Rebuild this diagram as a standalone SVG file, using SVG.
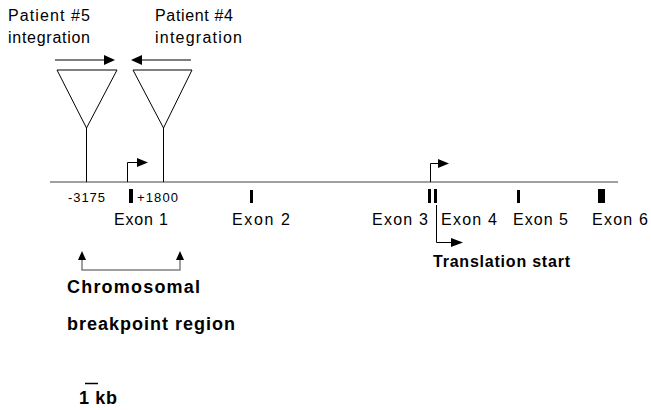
<svg xmlns="http://www.w3.org/2000/svg" width="651" height="410" viewBox="0 0 651 410">
<style>
text{font-family:"Liberation Sans",Arial,sans-serif;fill:#000}
.lbl{font-size:16px}
.ex{font-size:16px}
.tr{font-size:16px;font-weight:bold}
.sm{font-size:13px}
.big{font-size:18px;font-weight:bold}
.blk{stroke:#000;stroke-width:1;fill:none}
.gry{stroke:#808080;stroke-width:1.5;fill:none}
.tri{stroke:#000;stroke-width:1;fill:#fff}
.head{fill:#000}
</style>
<rect width="651" height="410" fill="#fff"/>
<g id="labels-top">
<text class="lbl" x="8" y="21" textLength="82">Patient #5</text>
<text class="lbl" x="8" y="43" textLength="82">integration</text>
<text class="lbl" x="155" y="21" textLength="78">Patient #4</text>
<text class="lbl" x="155" y="43" textLength="87">integration</text>
</g>
<g id="connectors">
<line class="gry" x1="50" y1="182" x2="618" y2="182"/>
<line class="blk" x1="55" y1="60" x2="105" y2="60"/>
<polygon class="head" points="115,60 104,55 104,65"/>
<line class="blk" x1="191" y1="60" x2="141" y2="60"/>
<polygon class="head" points="131,60 142,55 142,65"/>
<line class="blk" x1="86.5" y1="128" x2="86.5" y2="182"/>
<line class="blk" x1="163.5" y1="128" x2="163.5" y2="182"/>
<polyline class="blk" points="127.5,182 127.5,162.5 138,162.5"/>
<polygon class="head" points="148,162.5 137,158 137,167"/>
<polyline class="blk" points="430.5,182 430.5,163.5 440,163.5"/>
<polygon class="head" points="449,163.5 438,159 438,168"/>
<polyline class="blk" points="436.5,205 436.5,242.5 452,242.5"/>
<polygon class="head" points="463,242.5 451,238 451,247"/>
<polyline class="gry" points="82,260 82,270 180,270 180,260"/>
<polygon class="head" points="82,251 78,260 86,260"/>
<polygon class="head" points="180,251 176,260 184,260"/>
<line x1="85" y1="383.5" x2="98" y2="383.5" stroke="#000" stroke-width="1.5"/>
</g>
<g id="patient5-insert"><polygon class="tri" points="57,70 117,70 86.5,128"/></g>
<g id="patient4-insert"><polygon class="tri" points="133,70 192,70 163.5,128"/></g>
<g id="exon1"><rect x="129" y="189" width="4" height="14" fill="#000"/><text class="ex" x="114" y="225" textLength="54">Exon 1</text></g>
<g id="exon2"><rect x="250" y="190" width="3" height="13" fill="#000"/><text class="ex" x="232" y="225" textLength="58">Exon 2</text></g>
<g id="exon3"><rect x="428" y="189" width="3" height="14" fill="#000"/><text class="ex" x="372" y="225" textLength="56">Exon 3</text></g>
<g id="exon4"><rect x="434" y="189" width="3" height="14" fill="#000"/><text class="ex" x="441" y="225" textLength="56">Exon 4</text></g>
<g id="exon5"><rect x="517" y="190" width="3" height="13" fill="#000"/><text class="ex" x="513" y="225" textLength="55">Exon 5</text></g>
<g id="exon6"><rect x="598" y="189" width="7" height="14" fill="#000"/><text class="ex" x="592" y="225" textLength="56">Exon 6</text></g>
<g id="coords">
<text class="sm" x="68" y="202" textLength="37">-3175</text>
<text class="sm" x="137" y="202" textLength="41">+1800</text>
</g>
<g id="translation"><text class="tr" x="433" y="267" textLength="137">Translation start</text></g>
<g id="breakpoint">
<text class="big" x="67" y="293" textLength="133">Chromosomal</text>
<text class="big" x="67" y="330" textLength="168">breakpoint region</text>
</g>
<g id="scale"><text class="big" x="79" y="404" textLength="38">1 kb</text></g>
</svg>
